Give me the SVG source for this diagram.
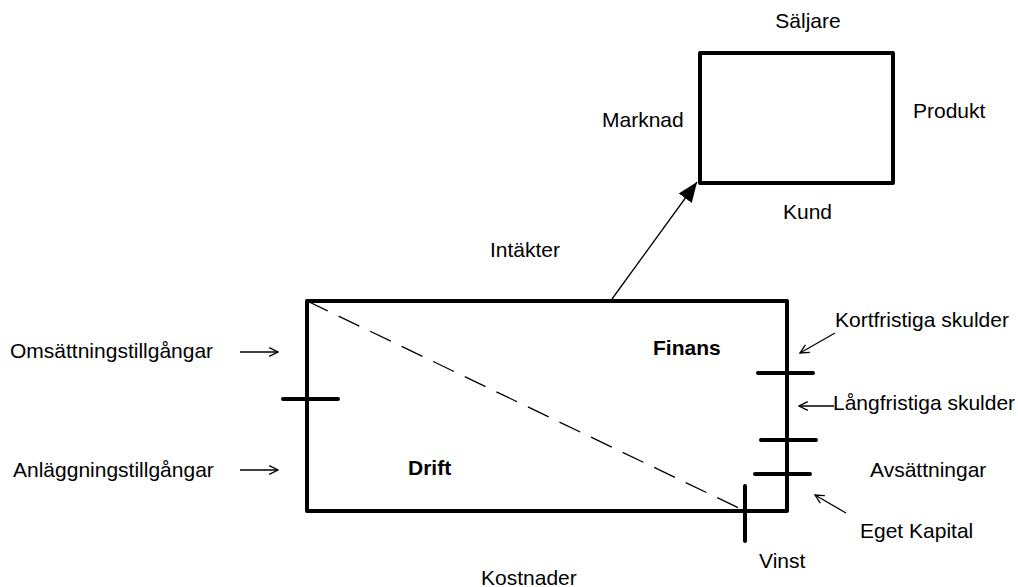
<svg xmlns="http://www.w3.org/2000/svg" width="1018" height="587" viewBox="0 0 1018 587">
<style>
text{font-family:"Liberation Sans",Arial,sans-serif;font-size:21px;fill:#000}
.b{font-weight:bold}
.box{fill:none;stroke:#000;stroke-width:4;stroke-linejoin:round}
.tick{stroke:#000;stroke-width:4;stroke-linecap:round}
.thin{stroke:#000;stroke-width:1.3;fill:none}
</style>
<defs>
<marker id="open" viewBox="0 0 10 10" refX="9" refY="5" markerWidth="11" markerHeight="11" markerUnits="userSpaceOnUse" orient="auto">
<path d="M1,1 L9,5 L1,9" fill="none" stroke="#000" stroke-width="1.2"/>
</marker>
<marker id="big" viewBox="0 0 20 20" refX="20" refY="10" markerWidth="20" markerHeight="20" markerUnits="userSpaceOnUse" orient="auto">
<path d="M0,2 L20,10 L0,18 z" fill="#000"/>
</marker>
</defs>
<g id="market">
<rect class="box" x="700" y="53" width="193" height="130"/>
<text x="808" y="28" text-anchor="middle">Säljare</text>
<text x="602" y="127">Marknad</text>
<text x="913" y="118">Produkt</text>
<text x="783" y="219">Kund</text>
</g>
<g id="company">
<rect class="box" x="307" y="301" width="480" height="210"/>
<text class="b" x="653" y="355">Finans</text>
<text class="b" x="408" y="475">Drift</text>
</g>
<g id="labels">
<text x="490" y="257">Intäkter</text>
<text x="10" y="358">Omsättningstillgångar</text>
<text x="13" y="477">Anläggningstillgångar</text>
<text x="835" y="327">Kortfristiga skulder</text>
<text x="833" y="410">Långfristiga skulder</text>
<text x="870" y="477">Avsättningar</text>
<text x="860" y="538">Eget Kapital</text>
<text x="759" y="568">Vinst</text>
<text x="481" y="585">Kostnader</text>
</g>
<g id="connectors">
<line x1="307" y1="301" x2="745" y2="511" stroke="#000" stroke-width="1.3" stroke-dasharray="23 12"/>
<line class="thin" x1="612" y1="299" x2="697" y2="182" marker-end="url(#big)"/>
<line class="thin" x1="240" y1="352" x2="278" y2="352" marker-end="url(#open)"/>
<line class="thin" x1="240" y1="470" x2="278" y2="470" marker-end="url(#open)"/>
<line class="thin" x1="835" y1="333" x2="800" y2="353" marker-end="url(#open)"/>
<line class="thin" x1="834" y1="406" x2="799" y2="406" marker-end="url(#open)"/>
<line class="thin" x1="846" y1="513" x2="815" y2="495" marker-end="url(#open)"/>
<line class="tick" x1="283" y1="399" x2="338" y2="399"/>
<line class="tick" x1="758" y1="373" x2="813" y2="373"/>
<line class="tick" x1="761" y1="440" x2="816" y2="440"/>
<line class="tick" x1="755" y1="474" x2="810" y2="474"/>
<line class="tick" x1="745" y1="486" x2="745" y2="541"/>
</g>
</svg>
